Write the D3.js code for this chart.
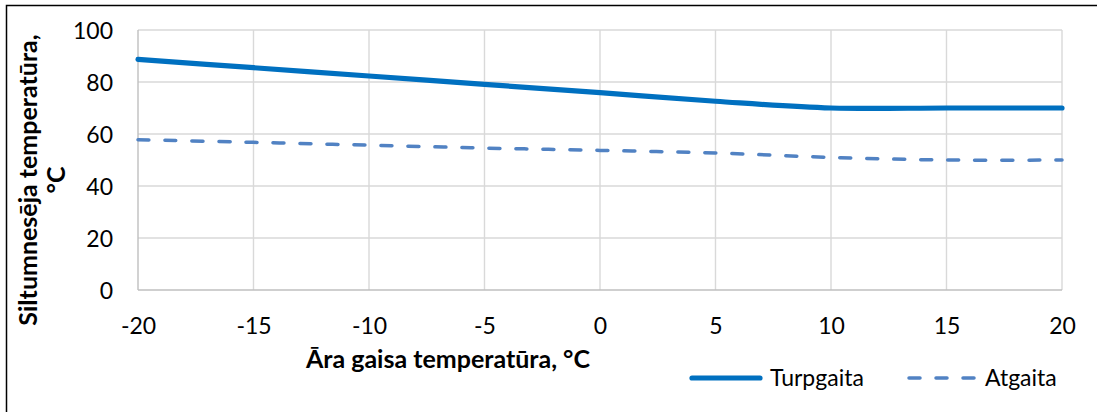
<!DOCTYPE html>
<html>
<head>
<meta charset="utf-8">
<script src="https://cdn.jsdelivr.net/npm/d3@7"></script>
<style>
  html, body { margin: 0; padding: 0; background: #fff; }
  svg { display: block; font-family: Lato, "Open Sans", sans-serif; }
</style>
</head>
<body>
<svg id="chart" width="1097" height="412"></svg>
<script>
// Outdoor air temperature (°C) and supply / return water temperatures (°C)
const outdoorTemps = [-20, -15, -10, -5, 0, 5, 10, 15, 20];
const supplyTemps  = [88.7, 85.5, 82.3, 79.1, 75.9, 72.6, 70, 70, 70];
const returnTemps  = [57.8, 56.8, 55.7, 54.6, 53.7, 52.7, 51, 50, 50];
const seriesNames  = ["Turpgaita", "Atgaita"];
const xTicks = [-20, -15, -10, -5, 0, 5, 10, 15, 20];
const yTicks = [0, 20, 40, 60, 80, 100];
const xTitle = "Āra gaisa temperatūra, °C";
const yTitleLines = ["Siltumnesēja temperatūra,", "°C"];

const svg = d3.select("#chart");
const plot = { left: 138, right: 1062, top: 30, bottom: 290 };

const x = d3.scaleLinear().domain([-20, 20]).range([plot.left, plot.right]);
const y = d3.scaleLinear().domain([0, 100]).range([plot.bottom, plot.top]);

// Plain hyphen-minus for negative tick values
const fmt = d => String(d);

// Chart frame
svg.append("rect")
  .attr("x", 6.5).attr("y", 5.5)
  .attr("width", 1200).attr("height", 500)
  .attr("fill", "none").attr("stroke", "#000").attr("stroke-width", 1.5);

// Gridlines
const grid = svg.append("g");
grid.selectAll("line.h").data(yTicks.filter(d => d > 0)).join("line")
  .attr("x1", plot.left).attr("x2", plot.right)
  .attr("y1", d => y(d)).attr("y2", d => y(d))
  .attr("stroke", "#d9d9d9").attr("stroke-width", 1.4);
grid.selectAll("line.v").data(xTicks.filter(d => d > -20)).join("line")
  .attr("x1", d => x(d)).attr("x2", d => x(d))
  .attr("y1", plot.top).attr("y2", plot.bottom)
  .attr("stroke", "#d9d9d9").attr("stroke-width", 1.4);

// Axis lines
svg.append("line")
  .attr("x1", plot.left).attr("x2", plot.right)
  .attr("y1", plot.bottom).attr("y2", plot.bottom)
  .attr("stroke", "#bfbfbf").attr("stroke-width", 1.4);
svg.append("line")
  .attr("x1", plot.left).attr("x2", plot.left)
  .attr("y1", plot.top).attr("y2", plot.bottom)
  .attr("stroke", "#bfbfbf").attr("stroke-width", 1.4);

// Axes (labels only)
const xAxis = d3.axisBottom(x).tickValues(xTicks).tickSize(0).tickPadding(0).tickFormat(fmt);
const yAxis = d3.axisLeft(y).tickValues(yTicks).tickSize(0).tickPadding(0).tickFormat(fmt);

const gx = svg.append("g").attr("transform", `translate(0,${plot.bottom})`).call(xAxis);
gx.select(".domain").remove();
gx.selectAll("text")
  .attr("y", 44).attr("dy", 0)
  .attr("font-size", 23).attr("font-family", "Lato, sans-serif").attr("fill", "#000");

const gy = svg.append("g").attr("transform", `translate(${plot.left},0)`).call(yAxis);
gy.select(".domain").remove();
gy.selectAll("text")
  .attr("x", -25).attr("dy", "0.36em")
  .attr("font-size", 23).attr("font-family", "Lato, sans-serif").attr("fill", "#000");

// Series
const points = (vals) => outdoorTemps.map((t, i) => [t, vals[i]]);
const line = d3.line()
  .x(d => x(d[0])).y(d => y(d[1]))
  .curve(d3.curveCatmullRom.alpha(0.5));

svg.append("path")
  .attr("d", line(points(returnTemps)))
  .attr("fill", "none").attr("stroke", "#5182c3")
  .attr("stroke-width", 3.5).attr("stroke-linecap", "round")
  .attr("stroke-dasharray", "11,16");

svg.append("path")
  .attr("d", line(points(supplyTemps)))
  .attr("fill", "none").attr("stroke", "#0070c0")
  .attr("stroke-width", 5.2).attr("stroke-linecap", "round");

// Axis titles
svg.append("text")
  .attr("x", 448).attr("y", 368)
  .attr("text-anchor", "middle")
  .attr("font-size", 25).attr("font-weight", "bold").attr("fill", "#000")
  .text(xTitle);

const yTitle = svg.append("text")
  .attr("transform", "translate(0,180) rotate(-90)")
  .attr("text-anchor", "middle")
  .attr("font-size", 25).attr("font-weight", "bold").attr("fill", "#000");
yTitle.append("tspan").attr("x", 0).attr("y", 37).text(yTitleLines[0]);
yTitle.append("tspan").attr("x", 0).attr("y", 65).text(yTitleLines[1]);

// Legend
const legend = svg.append("g").attr("font-size", 23).attr("fill", "#000");
const legendItems = [
  { name: seriesNames[0], color: "#0070c0", width: 5.2, dash: null, x0: 692, x1: 760, tx: 770 },
  { name: seriesNames[1], color: "#5182c3", width: 3.5, dash: "11,16", x0: 909, x1: 977, tx: 985 }
];
legendItems.forEach(it => {
  legend.append("line")
    .attr("x1", it.x0).attr("x2", it.x1).attr("y1", 378).attr("y2", 378)
    .attr("stroke", it.color).attr("stroke-width", it.width)
    .attr("stroke-linecap", "round")
    .attr("stroke-dasharray", it.dash);
  legend.append("text").attr("x", it.tx).attr("y", 386).text(it.name);
});
</script>
</body>
</html>
